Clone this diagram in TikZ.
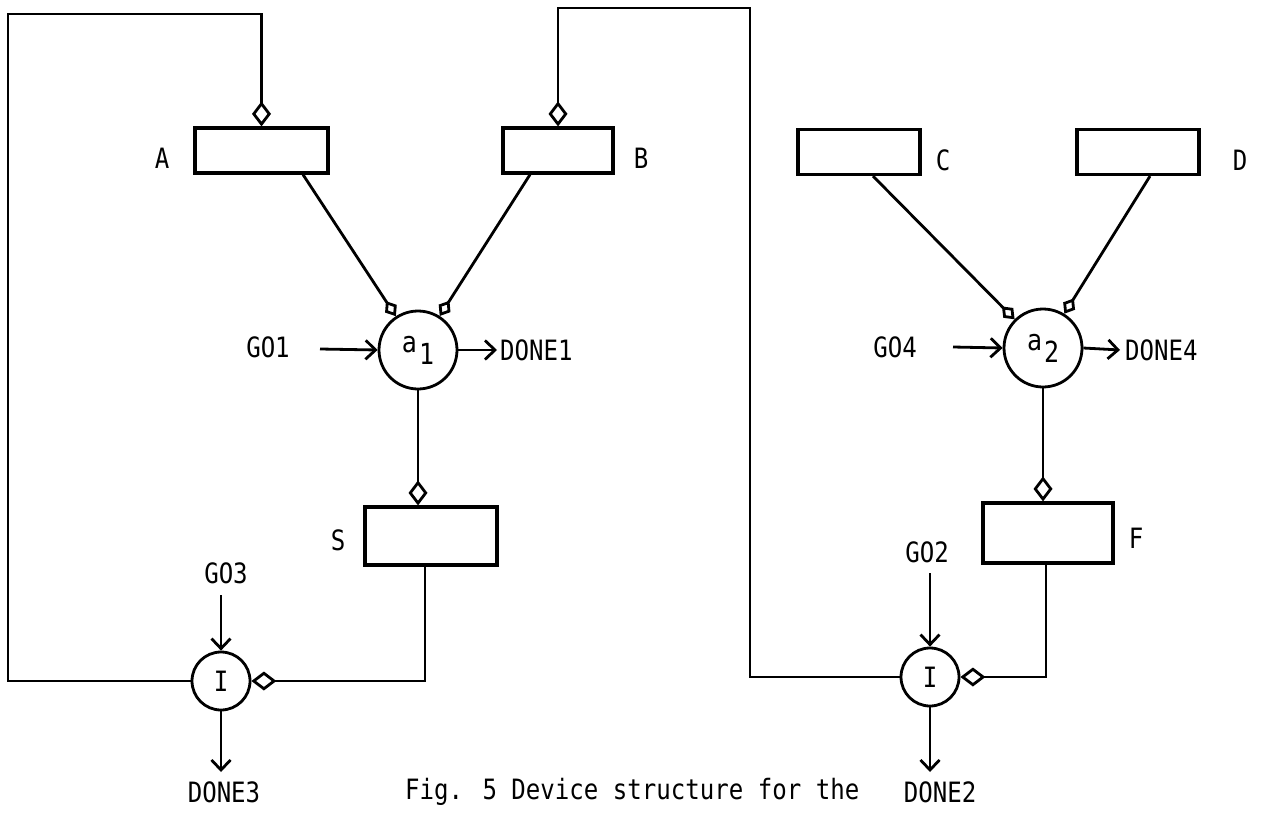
\documentclass[tikz,border=0pt]{standalone}
\usepackage{fontspec}
\setmainfont{DejaVu Sans Mono}[FakeStretch=0.86]
\usetikzlibrary{arrows.meta,calc}
\begin{document}
\begin{tikzpicture}[x=1pt,y=-1pt,
  reg/.style={draw, line width=3.2pt, inner sep=0pt, minimum width=#1, minimum height=45pt},
  reg/.default=122pt,
  proc/.style={draw, circle, line width=2.8pt, minimum size=78pt, inner sep=0pt, font=\fontsize{29}{32}\selectfont},
  init/.style={draw, circle, line width=2.8pt, minimum size=58pt, inner sep=0pt, font=\fontsize{28}{32}\selectfont},
  lbl/.style={inner sep=0pt, font=\fontsize{28}{32}\selectfont},
  wire/.style={line width=2.8pt},
  dm/.style={-{Diamond[open,length=25pt,width=19pt]}},
  dms/.style={-{Diamond[open,length=18pt,width=14pt]}},
  arr/.style={-{Straight Barb[length=10pt,width=19pt]}},
]
\useasboundingbox (0,0) rectangle (1284,816);

% registers
\node[reg=133pt] (A) at (261.5,150.5) {};
\node[reg=110pt] (B) at (558,150.5) {};
\node[reg=122pt] (C) at (859,152) {};
\node[reg=122pt] (D) at (1138,152) {};
\node[reg=132pt, minimum height=58pt] (S) at (431,536) {};
\node[reg=130pt, minimum height=60pt] (F) at (1048,533) {};

% register labels
\node[lbl] (lA) at (162,158) {A};
\node[lbl] (lB) at (641,158) {B};
\node[lbl] (lC) at (943,160) {C};
\node[lbl] (lD) at (1240,160) {D};
\node[lbl] (lS) at (338,540) {S};
\node[lbl] (lF) at (1136,538) {F};

% processing units
\node[proc] (a1) at (418,350) {a\hspace{2pt}\raisebox{-12pt}{1}};
\node[proc] (a2) at (1043,348) {a\hspace{2pt}\raisebox{-12pt}{2}};
\node[init] (I1) at (221,681) {I};
\node[init] (I2) at (930,677) {I};

% loop wires
\coordinate (tl) at (8,14);
\coordinate (tr) at (750,8);
\draw[wire,dm] (I1.west) -| (tl) -| (A.north);
\draw[wire,dm] (I2.west) -| (tr) -| (B.north);

% register to unit
\draw[wire,dms] ([xshift=41.5pt]A.south) -- (a1);
\draw[wire,dms] ([xshift=-28pt]B.south) -- (a1);
\draw[wire,dms] ([xshift=14pt]C.south) -- (a2);
\draw[wire,dms] ([xshift=12pt]D.south) -- (a2);

% unit to result register
\draw[wire,dm] (a1.south) -- (a1.south |- S.north);
\draw[wire,dm] (a2.south) -- (a2.south |- F.north);

% result register to I
\draw[wire,dm] ([xshift=-6pt]S.south) |- (I1.east);
\draw[wire,dm] ([xshift=-2pt]F.south) |- (I2.east);

% GO / DONE signals
\node[lbl] (go1) at (268,347) {GO1};
\coordinate (g1) at (320,349);
\draw[wire,arr] (g1) -- (a1.west);
\node[lbl,anchor=west] (done1) at (500,350) {DONE1};
\draw[wire,arr] (a1.east) -- ([xshift=-3pt]done1.west);

\node[lbl] (go4) at (895,347) {GO4};
\coordinate (g4) at (953,347);
\draw[wire,arr] (g4) -- (a2.west);
\node[lbl,anchor=west] (done4) at (1125,350) {DONE4};
\draw[wire,arr] (a2.east) -- ([xshift=-5pt]done4.west);

\node[lbl] (go3) at (226,573) {GO3};
\coordinate (g3) at (221,595);
\draw[wire,arr] (g3) -- (I1.north);
\coordinate (d3) at (221,772);
\draw[wire,arr] (I1.south) -- (d3);
\node[lbl] (done3) at (224,792) {DONE3};

\node[lbl] (go2) at (927,552) {GO2};
\coordinate (g2) at (930,573);
\draw[wire,arr] (g2) -- (I2.north);
\coordinate (d2) at (930,772);
\draw[wire,arr] (I2.south) -- (d2);
\node[lbl] (done2) at (940,792) {DONE2};

% caption
\node[lbl,anchor=west] (cap) at (405,792) {Fig. 5 Device structure for the};
\end{tikzpicture}
\end{document}
